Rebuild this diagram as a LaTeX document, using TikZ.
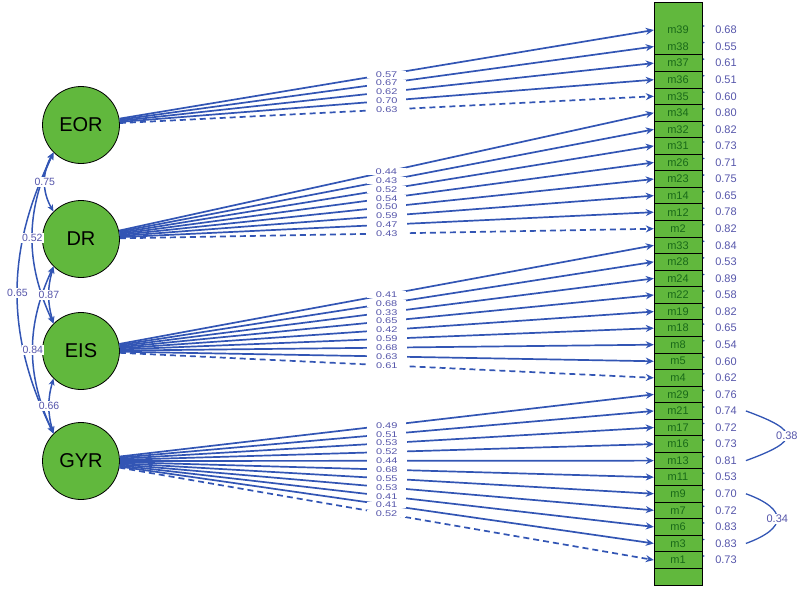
\documentclass[tikz,border=0pt]{standalone}
\usepackage{fontspec}
\setmainfont{Liberation Sans}
\usetikzlibrary{arrows.meta}
\definecolor{lblue}{RGB}{50,85,180}
\definecolor{ltext}{RGB}{85,85,170}
\definecolor{lgreen}{RGB}{97,184,61}
\definecolor{dgreen}{RGB}{25,105,25}
\begin{document}
\begin{tikzpicture}[x=1pt,y=1pt,
  latent/.style={circle,draw=black,line width=0.8pt,fill=lgreen,minimum size=77pt,inner sep=0pt,font=\fontsize{20}{20}\selectfont},
  item/.style={rectangle,inner sep=0pt,minimum width=48pt,minimum height=16.5pt,text=dgreen,font=\fontsize{11}{11}\selectfont},
  res/.style={text=ltext,inner sep=1pt,font=\fontsize{11}{11}\selectfont},
  load/.style={draw=lblue,line width=1.7pt,-{Stealth[length=8pt,width=7pt]}},
  mydash/.style={dash pattern=on 6pt off 4pt},
  loadlab/.style={fill=white,text=ltext,inner xsep=9pt,inner ysep=0.5pt,font=\fontsize{11}{11}\selectfont},
  cov/.style={draw=lblue,line width=1.5pt,{Stealth[length=7pt,width=6pt]}-{Stealth[length=7pt,width=6pt]}},
  covlab/.style={fill=white,text=ltext,inner sep=1pt,font=\fontsize{10.5}{10.5}\selectfont},
  rcov/.style={draw=lblue,line width=1.3pt},
  ]
\useasboundingbox (0,0) rectangle (802,-590);

% item column
\draw[fill=lgreen,line width=0.9pt] (654,-2) rectangle (702,-585);
\foreach \i in {1,...,32}
  \draw[line width=0.9pt] (654,{-30-16.5625*(\i+0.5)}) -- (702,{-30-16.5625*(\i+0.5)});
\foreach \nm/\rv [count=\i from 0] in {m39/0.68,m38/0.55,m37/0.61,m36/0.51,m35/0.60,m34/0.80,m32/0.82,m31/0.73,m26/0.71,m23/0.75,m14/0.65,m12/0.78,m2/0.82,m33/0.84,m28/0.53,m24/0.89,m22/0.58,m19/0.82,m18/0.65,m8/0.54,m5/0.60,m4/0.62,m29/0.76,m21/0.74,m17/0.72,m16/0.73,m13/0.81,m11/0.53,m9/0.70,m7/0.72,m6/0.83,m3/0.83,m1/0.73}{
  \node[item] (\nm) at (678,{-30-16.5625*\i}) {\nm};
  \node[res] (r\nm) at (726,{-30-16.5625*\i}) {\rv};
  \fill[lblue] ([xshift=1.5pt,yshift=4pt]\nm.east) circle (0.9pt);
}

% latent variables
\node[latent] (EOR) at (81,-125) {EOR};
\node[latent] (DR)  at (81,-239) {DR};
\node[latent] (EIS) at (81,-351) {EIS};
\node[latent] (GYR) at (81,-461) {GYR};

% loadings
\def\loadlist{EOR/m39/0.57/solid,EOR/m38/0.67/solid,EOR/m37/0.62/solid,EOR/m36/0.70/solid,EOR/m35/0.63/mydash,
DR/m34/0.44/solid,DR/m32/0.43/solid,DR/m31/0.52/solid,DR/m26/0.54/solid,DR/m23/0.50/solid,DR/m14/0.59/solid,DR/m12/0.47/solid,DR/m2/0.43/mydash,
EIS/m33/0.41/solid,EIS/m28/0.68/solid,EIS/m24/0.33/solid,EIS/m22/0.65/solid,EIS/m19/0.42/solid,EIS/m18/0.59/solid,EIS/m8/0.68/solid,EIS/m5/0.63/solid,EIS/m4/0.61/mydash,
GYR/m29/0.49/solid,GYR/m21/0.51/solid,GYR/m17/0.53/solid,GYR/m16/0.52/solid,GYR/m13/0.44/solid,GYR/m11/0.68/solid,GYR/m9/0.55/solid,GYR/m7/0.53/solid,GYR/m6/0.41/solid,GYR/m3/0.41/solid,GYR/m1/0.52/mydash}
\foreach \f/\nm/\l/\st in \loadlist
  \draw[load,\st] (\f) -- (\nm.west);
\foreach \f/\nm/\l/\st in \loadlist
  \path (\f) -- (\nm.west) node[loadlab,pos=0.5] {\scalebox{1}[0.75]{\l}};

% factor covariances
\draw[cov] (EOR.225) to[bend right=30] (DR.135);
\draw[cov] (EOR.225) to[bend right=25] (EIS.135);
\draw[cov] (EOR.225) to[bend right=26] (GYR.135);
\draw[cov] (DR.225) to[bend right=16] (EIS.135);
\draw[cov] (DR.225) to[bend right=25] (GYR.135);
\draw[cov] (EIS.225) to[bend right=16] (GYR.135);
\path (EOR.225) to[bend right=30] node[covlab] {0.75} (DR.135);
\path (EOR.225) to[bend right=25] node[covlab] {0.52} (EIS.135);
\path (EOR.225) to[bend right=26] node[covlab] {0.65} (GYR.135);
\path (DR.225) to[bend right=16] node[covlab] {0.87} (EIS.135);
\path (DR.225) to[bend right=25] node[covlab] {0.84} (GYR.135);
\path (EIS.225) to[bend right=16] node[covlab] {0.66} (GYR.135);

% residual covariances
\draw[rcov] ([xshift=8pt]rm21.east) to[out=-20,in=20,looseness=3] node[covlab,font=\fontsize{11}{11}\selectfont] {0.38} ([xshift=8pt]rm13.east);
\draw[rcov] ([xshift=8pt]rm9.east) to[out=-20,in=20,looseness=2.3] node[covlab,font=\fontsize{11}{11}\selectfont] {0.34} ([xshift=8pt]rm3.east);
\end{tikzpicture}
\end{document}
